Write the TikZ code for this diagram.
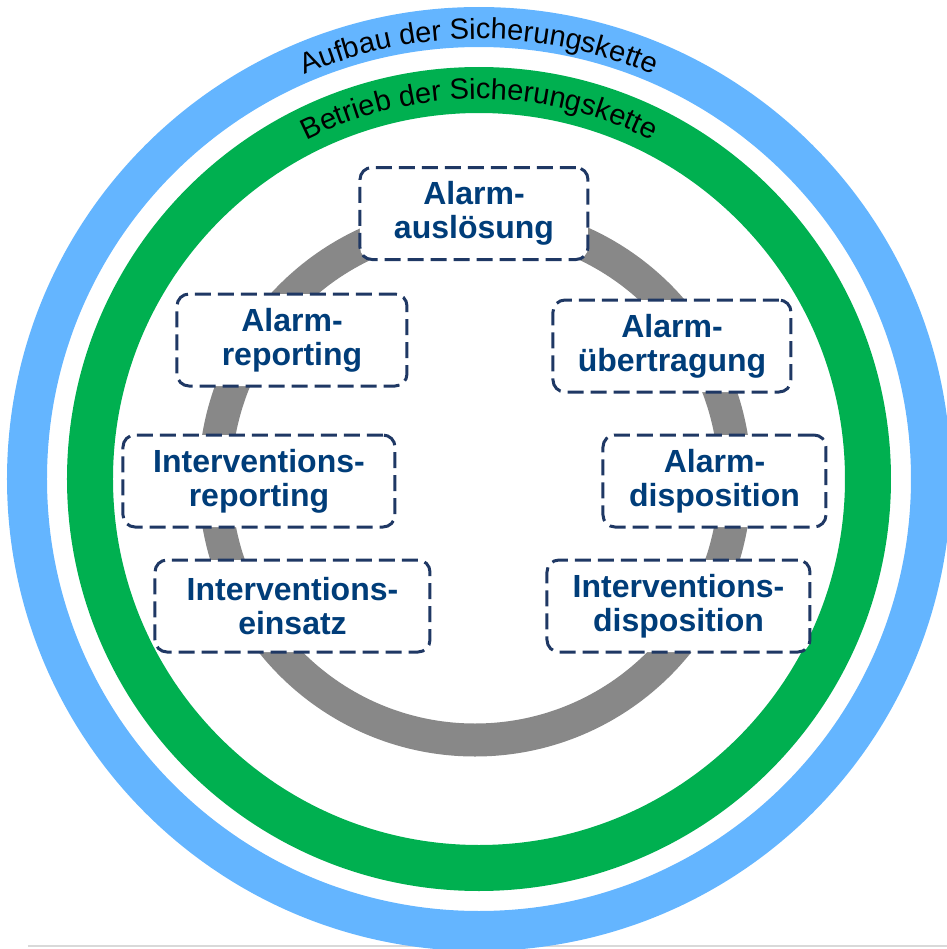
\documentclass[tikz,border=0pt]{standalone}
\usepackage{fontspec}
\setmainfont{Liberation Sans}
\usepackage{xcolor}
\usepackage{tikz}
\usetikzlibrary{decorations.text}
\definecolor{ringBlue}{RGB}{100,181,255}
\definecolor{ringGreen}{RGB}{0,176,80}
\definecolor{loopGray}{RGB}{136,136,136}
\definecolor{boxNavy}{RGB}{31,56,100}
\definecolor{textNavy}{RGB}{0,61,121}
\newcommand{\ringFont}{\fontsize{14.5}{14.5}\selectfont}

\begin{document}
\begin{tikzpicture}[
  stagebox/.style={draw=boxNavy, line width=1.5pt, dash pattern=on 8pt off 3.5pt,
    rounded corners=6pt, fill=white, minimum height=46pt, inner sep=0pt,
    align=center, text=textNavy, font=\fontsize{16}{17}\selectfont\bfseries},
  ringlabel/.style={decorate, decoration={text along path, text align=center,
    text={|\ringFont|#1}}}
]
  \useasboundingbox (-239.5pt,-235pt) rectangle (234pt,239.5pt);
  \clip (-239.5pt,-235pt) rectangle (234pt,239.5pt);
  % page rule
  \draw[gray!30, line width=1pt] (-225.5pt,-233.5pt) -- (234pt,-233.5pt);
  % outer rings and the loop
  \draw[ringBlue, line width=20pt] (0,0) circle[radius=226pt];
  \draw[ringGreen, line width=23pt] (0,0) circle[radius=194.5pt];
  \draw[loopGray, line width=16.5pt] (-2pt,-0.5pt) circle[radius=130pt];
  % ring labels
  \path[ringlabel={Aufbau der Sicherungskette}]
    (150:220pt) arc[start angle=150, end angle=30, radius=220pt];
  \path[ringlabel={Betrieb der Sicherungskette}]
    (150:190pt) arc[start angle=150, end angle=30, radius=190pt];
  % stages
  \node[stagebox, minimum width=114pt] (ausloesung) at (-2.5pt,132.75pt) {Alarm-\\auslösung};
  \node[stagebox, minimum width=119pt] (uebertragung) at (96.5pt,66.5pt) {Alarm-\\übertragung};
  \node[stagebox, minimum width=111.5pt] (alarmdispo) at (117.75pt,-1pt) {Alarm-\\disposition};
  \node[stagebox, minimum width=131.5pt] (interdispo) at (99.75pt,-63.5pt) {Interventions-\\disposition};
  \node[stagebox, minimum width=137.5pt] (einsatz) at (-93.25pt,-63.5pt) {Interventions-\\einsatz};
  \node[stagebox, minimum width=136pt] (interreport) at (-110pt,-1pt) {Interventions-\\reporting};
  \node[stagebox, minimum width=115pt] (alarmreport) at (-93.5pt,69.5pt) {Alarm-\\reporting};
\end{tikzpicture}
\end{document}
